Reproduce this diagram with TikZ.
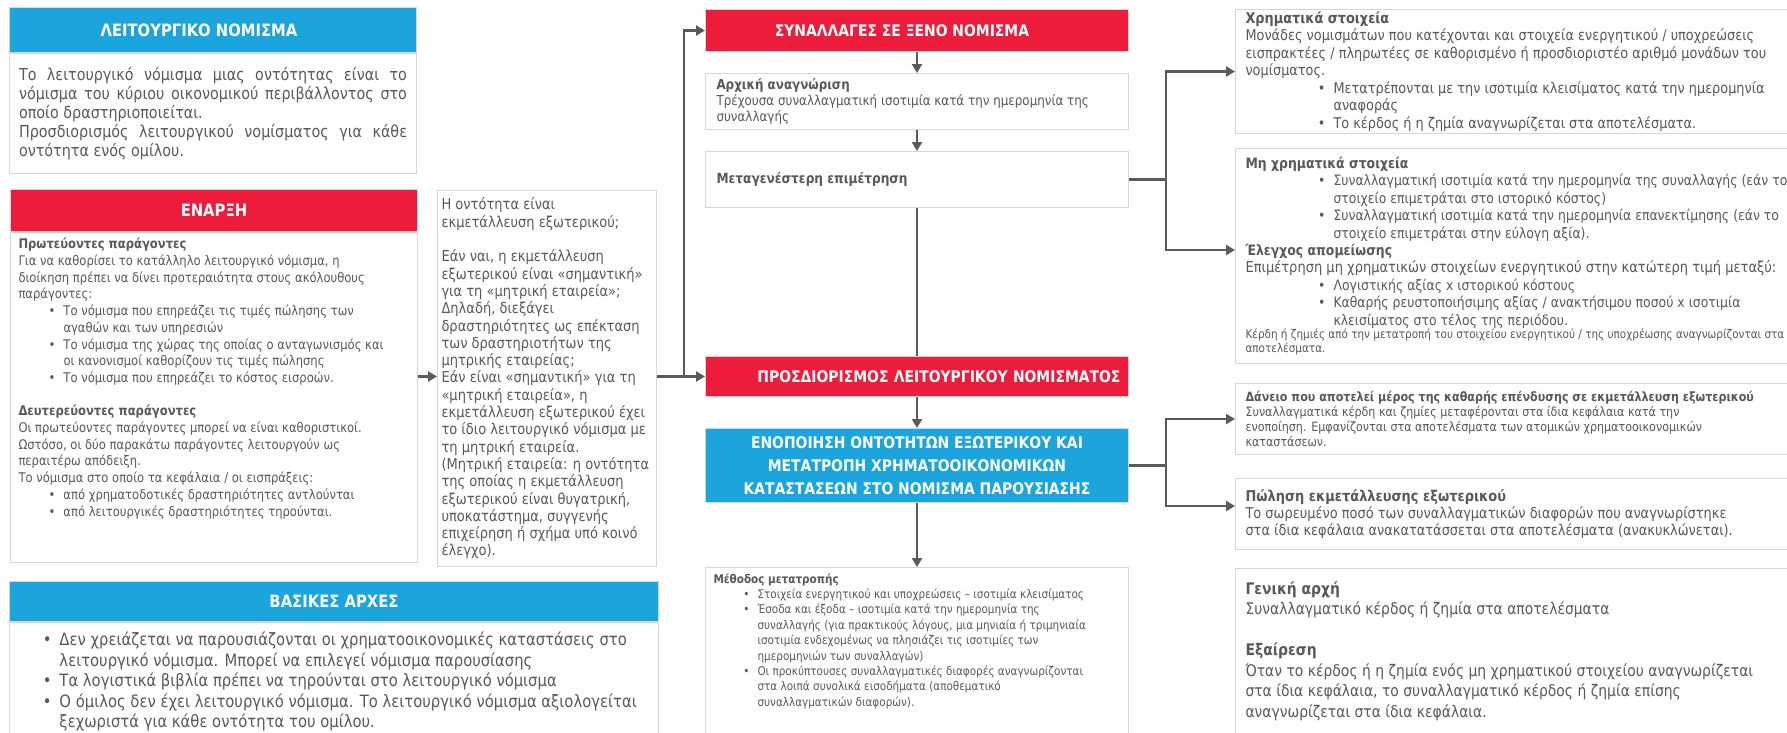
\documentclass[tikz,border=0pt]{standalone}
\usepackage{fontspec}
\setmainfont{DejaVu Sans}[FakeStretch=0.87]
\usetikzlibrary{arrows.meta, positioning}

\definecolor{hdred}{RGB}{237,28,59}
\definecolor{hdblue}{RGB}{28,164,221}
\definecolor{txtgray}{RGB}{89,89,89}
\definecolor{linegray}{RGB}{90,90,90}
\definecolor{framegray}{RGB}{214,214,214}

\newcommand{\fsz}[2]{\fontsize{#1}{#2}\selectfont}
\newcommand{\headfont}{\bfseries\fsz{16}{23}}
\newcommand{\lbr}{\hfil\break}
\newcommand{\bul}[1][45pt]{\par\hangindent=#1\hangafter=0\noindent\llap{\textbullet\hspace{8pt}}\ignorespaces}
\newcommand{\gap}{\par\vspace{\baselineskip}}
\newcommand{\jline}[1]{\makebox[\linewidth][s]{#1}\\}

\begin{document}
\begin{tikzpicture}[x=1pt, y=-1pt,
    >={Triangle[length=9pt, width=10pt]},
    head/.style={rectangle, draw=framegray, line width=1pt, text=white, font=\headfont, inner sep=0pt, anchor=north west},
    redhead/.style={head, fill=hdred},
    bluehead/.style={head, fill=hdblue},
    panel/.style={rectangle, draw=framegray, line width=1pt, fill=white, text=txtgray, align=flush left, inner xsep=8pt, inner ysep=0pt, anchor=north west},
    conn/.style={draw=linegray, line width=2.6pt, ->},
    link/.style={draw=linegray, line width=2.6pt}
  ]

\path[use as bounding box, fill=white] (0,0) rectangle (1787,732);

\node[bluehead, minimum width=407pt, minimum height=45pt, font=\bfseries\fsz{17}{23}] (IntroHead) at (9,7) {ΛΕΙΤΟΥΡΓΙΚΟ ΝΟΜΙΣΜΑ\hspace*{28pt}};
\node[panel, below=0pt of IntroHead, minimum width=407pt, minimum height=120pt, text width=388pt, font=\fsz{16.5}{19}] (IntroBox) {%
\jline{Το λειτουργικό νόμισμα μιας οντότητας είναι το}
\jline{νόμισμα του κύριου οικονομικού περιβάλλοντος στο}
οποίο δραστηριοποιείται.\\
\jline{Προσδιορισμός λειτουργικού νομίσματος για κάθε}
οντότητα ενός ομίλου.};

\node[redhead, minimum width=407pt, minimum height=42pt, font=\bfseries\fsz{17}{23}] (StartHead) at (10,189) {ΕΝΑΡΞΗ};
\node[panel, below=0pt of StartHead, minimum width=407pt, minimum height=330pt, text width=391pt, font=\fsz{13.3}{16.7}] (StartBox) {%
\textbf{Πρωτεύοντες παράγοντες}\\
Για να καθορίσει το κατάλληλο λειτουργικό νόμισμα, η\\
διοίκηση πρέπει να δίνει προτεραιότητα στους ακόλουθους\\
παράγοντες:
\bul Το νόμισμα που επηρεάζει τις τιμές πώλησης των\lbr αγαθών και των υπηρεσιών
\bul Το νόμισμα της χώρας της οποίας ο ανταγωνισμός και\lbr οι κανονισμοί καθορίζουν τις τιμές πώλησης
\bul Το νόμισμα που επηρεάζει το κόστος εισροών.
\gap
\textbf{Δευτερεύοντες παράγοντες}\\
Οι πρωτεύοντες παράγοντες μπορεί να είναι καθοριστικοί.\\
Ωστόσο, οι δύο παρακάτω παράγοντες λειτουργούν ως\\
περαιτέρω απόδειξη.\\
Το νόμισμα στο οποίο τα κεφάλαια / οι εισπράξεις:
\bul από χρηματοδοτικές δραστηριότητες αντλούνται
\bul από λειτουργικές δραστηριότητες τηρούνται.
\par\vspace{24pt}\null};

\node[panel, minimum width=219pt, minimum height=376pt, text width=211pt, inner xsep=4pt, font=\fsz{15}{17.3}] (EntityBox) at (437,190) {%
Η οντότητα είναι\\ εκμετάλλευση εξωτερικού;
\gap
Εάν ναι, η εκμετάλλευση\\ εξωτερικού είναι «σημαντική»\\ για τη «μητρική εταιρεία»;\\
Δηλαδή, διεξάγει\\ δραστηριότητες ως επέκταση\\ των δραστηριοτήτων της\\ μητρικής εταιρείας;\\
Εάν είναι «σημαντική» για τη\\ «μητρική εταιρεία», η\\ εκμετάλλευση εξωτερικού έχει\\
το ίδιο λειτουργικό νόμισμα με\\ τη μητρική εταιρεία.\\
(Μητρική εταιρεία: η οντότητα\\ της οποίας η εκμετάλλευση\\ εξωτερικού είναι θυγατρική,\\
υποκατάστημα, συγγενής\\ επιχείρηση ή σχήμα υπό κοινό\\ έλεγχο).};

\node[bluehead, minimum width=649pt, minimum height=40pt, font=\bfseries\fsz{17}{23}] (PrinHead) at (9,581) {ΒΑΣΙΚΕΣ ΑΡΧΕΣ};
\node[panel, below=0pt of PrinHead, minimum width=649pt, minimum height=112pt, text width=645pt, inner xsep=2pt, font=\fsz{17}{20.5}] (PrinBox) {%
\bul[48pt] Δεν χρειάζεται να παρουσιάζονται οι χρηματοοικονομικές καταστάσεις στο\lbr λειτουργικό νόμισμα. Μπορεί να επιλεγεί νόμισμα παρουσίασης
\bul[48pt] Τα λογιστικά βιβλία πρέπει να τηρούνται στο λειτουργικό νόμισμα
\bul[48pt] Ο όμιλος δεν έχει λειτουργικό νόμισμα. Το λειτουργικό νόμισμα αξιολογείται\lbr ξεχωριστά για κάθε οντότητα του ομίλου.\par};

\node[redhead, minimum width=423pt, minimum height=42pt] (ForeignHead) at (705,9) {ΣΥΝΑΛΛΑΓΕΣ ΣΕ ΞΕΝΟ ΝΟΜΙΣΜΑ\hspace*{30pt}};
\node[panel, below=21pt of ForeignHead, minimum width=423pt, minimum height=56pt, text width=401pt, inner xsep=11pt, font=\fsz{13.7}{16}] (InitBox) {%
\textbf{Αρχική αναγνώριση}\\
Τρέχουσα συναλλαγματική ισοτιμία κατά την ημερομηνία της\\ συναλλαγής};
\node[panel, below=21pt of InitBox, minimum width=423pt, minimum height=56pt, text width=401pt, inner xsep=11pt, font=\fsz{14}{17}] (LaterBox) {\textbf{Μεταγενέστερη επιμέτρηση}};

\node[redhead, minimum width=423pt, minimum height=40pt, text width=407pt, align=right] (FuncHead) at (705,356) {ΠΡΟΣΔΙΟΡΙΣΜΟΣ ΛΕΙΤΟΥΡΓΙΚΟΥ ΝΟΜΙΣΜΑΤΟΣ};
\node[bluehead, below=31pt of FuncHead, minimum width=423pt, minimum height=74pt, align=center] (ConsHead) {ΕΝΟΠΟΙΗΣΗ ΟΝΤΟΤΗΤΩΝ ΕΞΩΤΕΡΙΚΟΥ ΚΑΙ\\ ΜΕΤΑΤΡΟΠΗ ΧΡΗΜΑΤΟΟΙΚΟΝΟΜΙΚΩΝ\\ ΚΑΤΑΣΤΑΣΕΩΝ ΣΤΟ ΝΟΜΙΣΜΑ ΠΑΡΟΥΣΙΑΣΗΣ};
\node[panel, below=64pt of ConsHead, minimum width=423pt, minimum height=168pt, text width=407pt, font=\fsz{12}{15.4}] (MethodBox) {%
\textbf{Μέθοδος μετατροπής}
\bul[44pt] Στοιχεία ενεργητικού και υποχρεώσεις – ισοτιμία κλεισίματος
\bul[44pt] Έσοδα και έξοδα – ισοτιμία κατά την ημερομηνία της\lbr συναλλαγής (για πρακτικούς λόγους, μια μηνιαία ή τριμηνιαία\lbr ισοτιμία ενδεχομένως να πλησιάζει τις ισοτιμίες των\lbr ημερομηνιών των συναλλαγών)
\bul[44pt] Οι προκύπτουσες συναλλαγματικές διαφορές αναγνωρίζονται\lbr στα λοιπά συνολικά εισοδήματα (αποθεματικό\lbr συναλλαγματικών διαφορών).
\par\vspace{8pt}\null};

\node[panel, minimum width=568pt, minimum height=124pt, text width=548pt, inner xsep=10pt, font=\fsz{14.8}{17.5}] (MonBox) at (1235,9) {%
\textbf{Χρηματικά στοιχεία}\\
Μονάδες νομισμάτων που κατέχονται και στοιχεία ενεργητικού / υποχρεώσεις\\
εισπρακτέες / πληρωτέες σε καθορισμένο ή προσδιοριστέο αριθμό μονάδων του\\
νομίσματος.
\bul[88pt] Μετατρέπονται με την ισοτιμία κλεισίματος κατά την ημερομηνία\lbr αναφοράς
\bul[88pt] Το κέρδος ή η ζημία αναγνωρίζεται στα αποτελέσματα.\par};
\node[panel, minimum width=568pt, minimum height=215pt, text width=548pt, inner xsep=10pt, font=\fsz{14.3}{17.4}] (NonMonBox) at (1235,148) {%
\textbf{Μη χρηματικά στοιχεία}
\bul[88pt] Συναλλαγματική ισοτιμία κατά την ημερομηνία της συναλλαγής (εάν το\lbr στοιχείο επιμετράται στο ιστορικό κόστος)
\bul[88pt] Συναλλαγματική ισοτιμία κατά την ημερομηνία επανεκτίμησης (εάν το\lbr στοιχείο επιμετράται στην εύλογη αξία).
\par\textbf{Έλεγχος απομείωσης}\\
{\fsz{15}{17.4}Επιμέτρηση μη χρηματικών στοιχείων ενεργητικού στην κατώτερη τιμή μεταξύ:}
\bul[88pt] Λογιστικής αξίας x ιστορικού κόστους
\bul[88pt] Καθαρής ρευστοποιήσιμης αξίας / ανακτήσιμου ποσού x ισοτιμία\lbr κλεισίματος στο τέλος της περιόδου.
\par{\fsz{12}{13.7}Κέρδη ή ζημιές από την μετατροπή του στοιχείου ενεργητικού / της υποχρέωσης αναγνωρίζονται στα\\ αποτελέσματα.\par}};
\node[panel, minimum width=568pt, minimum height=71pt, text width=548pt, inner xsep=10pt, font=\fsz{12.8}{15.2}] (LoanBox) at (1235,383) {%
\textbf{Δάνειο που αποτελεί μέρος της καθαρής επένδυσης σε εκμετάλλευση εξωτερικού}\\
Συναλλαγματικά κέρδη και ζημίες μεταφέρονται στα ίδια κεφάλαια κατά την\\
ενοποίηση. Εμφανίζονται στα αποτελέσματα των ατομικών χρηματοοικονομικών\\
καταστάσεων.};
\node[panel, minimum width=568pt, minimum height=71pt, text width=548pt, inner xsep=10pt, font=\fsz{14.9}{17}] (SaleBox) at (1235,478) {%
\textbf{Πώληση εκμετάλλευσης εξωτερικού}\\
Το σωρευμένο ποσό των συναλλαγματικών διαφορών που αναγνωρίστηκε\\
στα ίδια κεφάλαια ανακατατάσσεται στα αποτελέσματα (ανακυκλώνεται).};
\node[panel, minimum width=568pt, minimum height=165pt, text width=548pt, inner xsep=10pt, font=\fsz{16}{20.5}] (GenBox) at (1235,568) {%
\textbf{Γενική αρχή}\\
Συναλλαγματικό κέρδος ή ζημία στα αποτελέσματα
\gap
\textbf{Εξαίρεση}\\
Όταν το κέρδος ή η ζημία ενός μη χρηματικού στοιχείου αναγνωρίζεται\\
στα ίδια κεφάλαια, το συναλλαγματικό κέρδος ή ζημία επίσης\\
αναγνωρίζεται στα ίδια κεφάλαια.};

\coordinate (LoopFork) at ([xshift=-21pt]FuncHead.west);
\coordinate (MeasFork) at ([xshift=37pt]LaterBox.east);
\coordinate (ConsFork) at ([xshift=37pt]ConsHead.east);

\draw[conn] (StartBox.east |- FuncHead.west) -- (EntityBox.west |- FuncHead.west);
\draw[conn] (EntityBox.east |- FuncHead.west) -- (FuncHead.west);
\draw[conn] (LoopFork) |- (ForeignHead.west);
\draw[conn] (ForeignHead) -- (InitBox);
\draw[conn] (InitBox) -- (LaterBox);
\draw[link] (LaterBox) -- (FuncHead);
\draw[conn] (FuncHead) -- (ConsHead);
\draw[conn] (ConsHead) -- (MethodBox);
\draw[link] (LaterBox.east) -- (MeasFork);
\draw[conn] (MeasFork) |- (MonBox.west);
\draw[conn] (MeasFork) |- ([yshift=6pt]NonMonBox.west);
\draw[link] (ConsHead.east) -- (ConsFork);
\draw[conn] (ConsFork) |- (LoanBox.west);
\draw[conn] (ConsFork) |- ([yshift=8pt]SaleBox.west);

\end{tikzpicture}
\end{document}
